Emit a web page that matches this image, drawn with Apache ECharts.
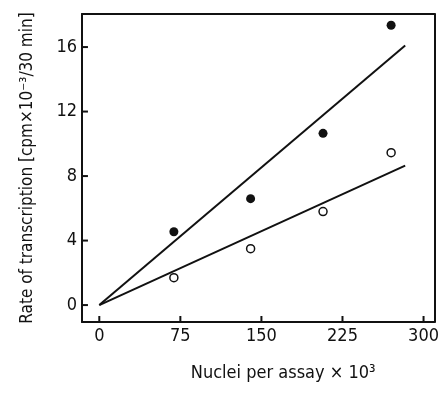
<!DOCTYPE html>
<html><head><meta charset="utf-8">
<script src="https://cdn.jsdelivr.net/npm/echarts@6/dist/echarts.min.js"></script>
<style>html,body{margin:0;padding:0;background:#fff}#c{width:442px;height:396px}</style>
</head><body><div id="c"></div>
<script>
const nuclei = [69, 140, 207, 270];
const filledRate = [4.55, 6.6, 10.65, 17.35];
const openRate = [1.7, 3.5, 5.8, 9.45];
const fitX = [0, 283];
const fitFilled = [0, 16.1];
const fitOpen = [0, 8.65];
const xTicks = [0, 75, 150, 225, 300];
const yTicks = [0, 4, 8, 12, 16];
const xTitle = 'Nuclei per assay \u00d7 10\u00b3';
const yTitle = 'Rate of transcription [cpm\u00d710\u207b\u00b3/30 min]';

const FONT = "'DejaVu Sans Condensed', 'Liberation Sans Narrow', sans-serif";
const W = 442, H = 396;
const G = {left: 82, top: 14, right: 5, bottom: 74};
const xRange = {min: -16, max: 310};
const yRange = {min: -1.05, max: 18.05};
const TICK = 6;
const zip = (a, b) => a.map((v, i) => [v, b[i]]);
const lineC = {color: '#111', width: 2};

// tick length converted from pixels into data units of each axis
const plotW = W - G.left - G.right;
const plotH = H - G.top - G.bottom;
const xTickLen = TICK * (xRange.max - xRange.min) / plotW;
const yTickLen = TICK * (yRange.max - yRange.min) / plotH;

const frameAxis = (pos, rng) => Object.assign({
  type: 'value', position: pos, splitLine: {show: false},
  axisLine: {show: true, onZero: false, lineStyle: lineC},
  axisTick: {show: false}, axisLabel: {show: false}
}, rng);
const tickSeg = (data) => ({
  type: 'line', data: data, symbol: 'none', clip: false, z: 10, silent: true,
  lineStyle: lineC, xAxisIndex: 0, yAxisIndex: 0
});
const tickSeries = [
  ...xTicks.map(v => tickSeg([[v, yRange.min], [v, yRange.min + yTickLen]])),
  ...yTicks.map(v => tickSeg([[xRange.min, v], [xRange.min + xTickLen, v]]))
];

const chart = echarts.init(document.getElementById('c'), null, {renderer: 'canvas'});
chart.setOption({
  animation: false,
  backgroundColor: '#fff',
  grid: Object.assign({show: false}, G),
  xAxis: [Object.assign({
    type: 'value', position: 'bottom',
    splitLine: {show: false},
    axisLine: {show: true, onZero: false, lineStyle: lineC},
    axisTick: {show: false},
    axisLabel: {customValues: xTicks, color: '#111', fontFamily: FONT, fontSize: 18, margin: 5},
    name: xTitle, nameLocation: 'middle', nameGap: 42,
    nameTextStyle: {color: '#111', fontFamily: FONT, fontSize: 18, padding: [0, 0, 0, 50]}
  }, xRange), frameAxis('top', xRange)],
  yAxis: [Object.assign({
    type: 'value', position: 'left',
    splitLine: {show: false},
    axisLine: {show: true, onZero: false, lineStyle: lineC},
    axisTick: {show: false},
    axisLabel: {customValues: yTicks, color: '#111', fontFamily: FONT, fontSize: 18, margin: 5},
    name: yTitle, nameLocation: 'middle', nameGap: 46,
    nameTextStyle: {color: '#111', fontFamily: FONT, fontSize: 17}
  }, yRange), frameAxis('right', yRange)],
  series: [
    {type: 'line', data: zip(fitX, fitFilled), symbol: 'none', lineStyle: lineC},
    {type: 'line', data: zip(fitX, fitOpen), symbol: 'none', lineStyle: lineC},
    {type: 'scatter', data: zip(nuclei, filledRate), symbol: 'circle', symbolSize: 9, itemStyle: {color: '#111', opacity: 1}},
    {type: 'scatter', data: zip(nuclei, openRate), symbol: 'circle', symbolSize: 8, itemStyle: {color: '#fff', borderColor: '#111', borderWidth: 1.5, opacity: 1}},
    ...tickSeries
  ]
});
</script></body></html>
